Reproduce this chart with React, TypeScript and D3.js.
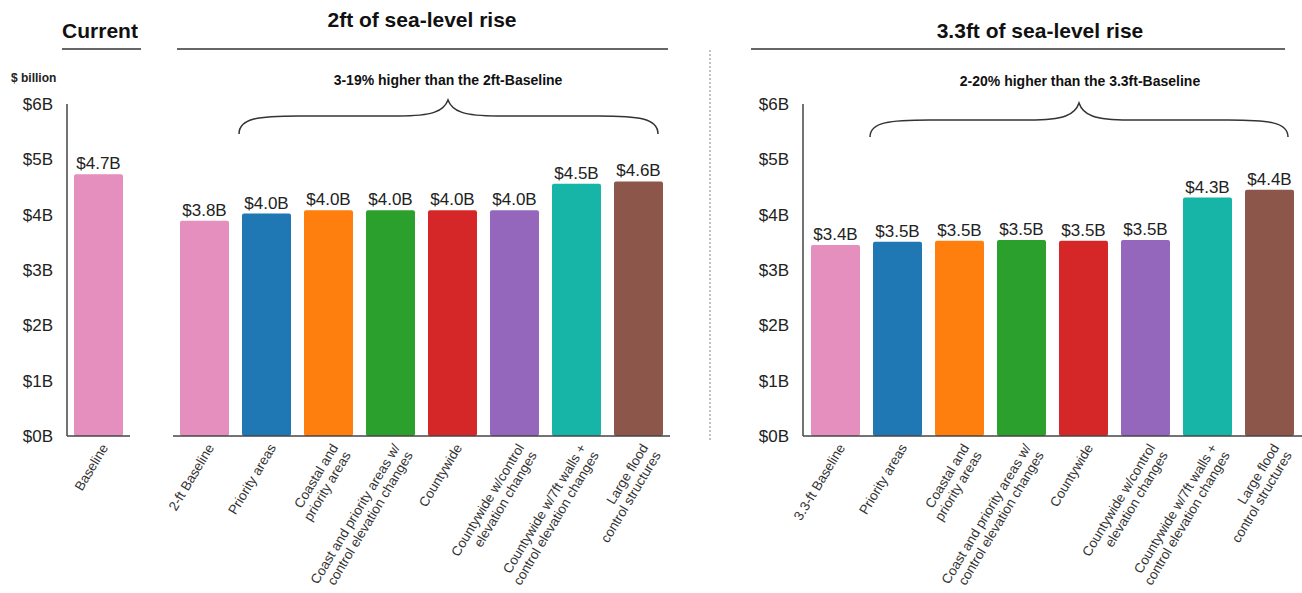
import React from "react";
import * as d3 from "d3";

const currentCats = ["Baseline"];
const currentValues = [4.73];
const currentLabels = ["$4.7B"];

const ft2Cats = [
  "2-ft Baseline",
  "Priority areas",
  "Coastal and\npriority areas",
  "Coast and priority areas w/\ncontrol elevation changes",
  "Countywide",
  "Countywide w/control\nelevation changes",
  "Countywide w/7ft walls +\ncontrol elevation changes",
  "Large flood\ncontrol structures",
];
const ft2Values = [3.89, 4.02, 4.08, 4.08, 4.08, 4.08, 4.56, 4.6];
const ft2Labels = ["$3.8B", "$4.0B", "$4.0B", "$4.0B", "$4.0B", "$4.0B", "$4.5B", "$4.6B"];

const ft33Cats = [
  "3.3-ft Baseline",
  "Priority areas",
  "Coastal and\npriority areas",
  "Coast and priority areas w/\ncontrol elevation changes",
  "Countywide",
  "Countywide w/control\nelevation changes",
  "Countywide w/7ft walls +\ncontrol elevation changes",
  "Large flood\ncontrol structures",
];
const ft33Values = [3.45, 3.51, 3.53, 3.54, 3.53, 3.54, 4.31, 4.45];
const ft33Labels = ["$3.4B", "$3.5B", "$3.5B", "$3.5B", "$3.5B", "$3.5B", "$4.3B", "$4.4B"];

const scenarioColors = ["#e48fbd", "#1f77b4", "#ff7f0e", "#2ca02c", "#d62728", "#9467bd", "#17b5a8", "#8c564b"];
const yTicks = [0, 1, 2, 3, 4, 5, 6];

const FONT = "'Liberation Sans', Arial, sans-serif";
const W = 1302;
const H = 593;

const y = d3.scaleLinear().domain([0, 6]).range([436, 104]);

function Brace({ x0, x1, xm, yEnd, yH, yTop }: any) {
  const p = d3.path();
  p.moveTo(x0, yEnd);
  p.bezierCurveTo(x0, yH + 2, x0 + 20, yH, x0 + 60, yH);
  p.lineTo(xm - 50, yH);
  p.bezierCurveTo(xm - 15, yH, xm - 4, yH - 5, xm, yTop);
  p.bezierCurveTo(xm + 4, yH - 5, xm + 15, yH, xm + 50, yH);
  p.lineTo(x1 - 60, yH);
  p.bezierCurveTo(x1 - 20, yH, x1, yH + 2, x1, yEnd);
  return <path d={p.toString()} fill="none" stroke="#333" strokeWidth={1.5} />;
}

function Panel({ cats, values, labels, colors, range }: any) {
  const x = d3.scaleBand<string>().domain(cats.map((c: string, i: number) => i + "")).range(range).paddingInner(0.21).paddingOuter(0.105);
  return (
    <g>
      {values.map((v: number, i: number) => {
        const bx = x(i + "")!;
        const bw = x.bandwidth();
        return (
          <g key={i}>
            <rect x={bx} y={y(v)} width={bw} height={y(0) - y(v)} fill={colors[i]} rx={2} />
            <text x={bx + bw / 2} y={y(v) - 5} textAnchor="middle" fontSize={17} fill="#222" fontFamily={FONT}>
              {labels[i]}
            </text>
            <text
              transform={`translate(${bx + bw / 2 + 6},${445}) rotate(-59)`}
              textAnchor="end"
              fontSize={13.5}
              fill="#333"
              fontFamily={FONT}
            >
              {cats[i].split("\n").map((line: string, j: number) => (
                <tspan key={j} x={0} dy={j === 0 ? "0.35em" : "1.1em"}>
                  {line}
                </tspan>
              ))}
            </text>
          </g>
        );
      })}
    </g>
  );
}

function YAxis({ x0, labelX }: any) {
  return (
    <g>
      <line x1={x0} x2={x0} y1={y(6)} y2={y(0)} stroke="#444" strokeWidth={1.5} />
      {yTicks.map((t) => (
        <text key={t} x={labelX} y={y(t)} dy="0.35em" textAnchor="end" fontSize={17} fill="#222" fontFamily={FONT}>
          {`$${t}B`}
        </text>
      ))}
    </g>
  );
}

export default function App() {
  return (
    <svg width={W} height={H} style={{ position: "absolute", left: 0, top: 0, background: "#fff" }}>
      <rect width={W} height={H} fill="#fff" />
      {/* headers */}
      <text x={100} y={38} textAnchor="middle" fontSize={21} fontWeight="bold" fontFamily={FONT} fill="#111">Current</text>
      <line x1={62} x2={141} y1={49} y2={49} stroke="#333" strokeWidth={1.5} />
      <text x={422} y={27} textAnchor="middle" fontSize={21} fontWeight="bold" fontFamily={FONT} fill="#111">2ft of sea-level rise</text>
      <line x1={177} x2={668} y1={49} y2={49} stroke="#333" strokeWidth={1.5} />
      <text x={1040} y={38} textAnchor="middle" fontSize={21} fontWeight="bold" fontFamily={FONT} fill="#111">3.3ft of sea-level rise</text>
      <line x1={751} x2={1285} y1={49} y2={49} stroke="#333" strokeWidth={1.5} />
      <line x1={710} x2={710} y1={50} y2={442} stroke="#999" strokeWidth={1.2} strokeDasharray="2,2" />

      <text x={11} y={82} fontSize={12} fontWeight="bold" fontFamily={FONT} fill="#222">$ billion</text>

      {/* braces */}
      <text x={448} y={85} textAnchor="middle" fontSize={14} fontWeight="bold" fontFamily={FONT} fill="#111">3-19% higher than the 2ft-Baseline</text>
      <Brace x0={239} x1={658} xm={448} yEnd={134} yH={116} yTop={100} />
      <text x={1080} y={86} textAnchor="middle" fontSize={14} fontWeight="bold" fontFamily={FONT} fill="#111">2-20% higher than the 3.3ft-Baseline</text>
      <Brace x0={870} x1={1288} xm={1079} yEnd={137} yH={120} yTop={103} />

      {/* axes */}
      <YAxis x0={67} labelX={53} />
      <YAxis x0={803} labelX={789} />

      <Panel cats={currentCats} values={currentValues} labels={currentLabels} colors={[scenarioColors[0]]} range={[67.5, 129.5]} />
      <Panel cats={ft2Cats} values={ft2Values} labels={ft2Labels} colors={scenarioColors} range={[173.5, 669.5]} />
      <Panel cats={ft33Cats} values={ft33Values} labels={ft33Labels} colors={scenarioColors} range={[804.5, 1300.5]} />

      <line x1={67} x2={130} y1={y(0)} y2={y(0)} stroke="#444" strokeWidth={1.5} />
      <line x1={173} x2={670} y1={y(0)} y2={y(0)} stroke="#444" strokeWidth={1.5} />
      <line x1={803} x2={1302} y1={y(0)} y2={y(0)} stroke="#444" strokeWidth={1.5} />
    </svg>
  );
}
